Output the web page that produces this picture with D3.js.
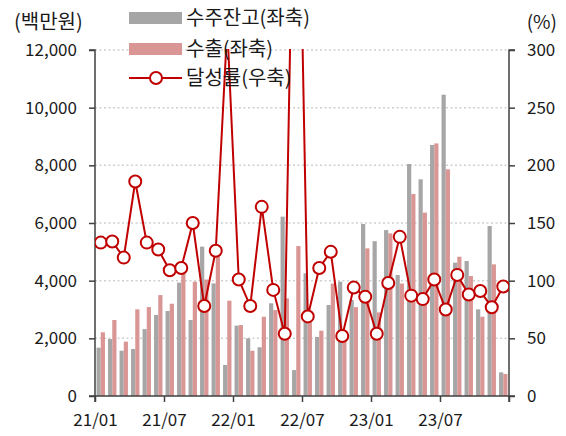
<!DOCTYPE html>
<html>
<head>
<meta charset="utf-8">
<script src="https://cdn.jsdelivr.net/npm/d3@7.9.0/dist/d3.min.js"></script>
<style>
  body { margin: 0; background: #fff; }
  svg text { font-family: "Noto Sans CJK KR", "Noto Sans", sans-serif; fill: #1a1a1a; }
</style>
</head>
<body>
<svg id="chart" width="566" height="436"></svg>
<script>
// months 21/01 .. 23/12
const months = [
  '21/01','21/02','21/03','21/04','21/05','21/06','21/07','21/08','21/09','21/10','21/11','21/12',
  '22/01','22/02','22/03','22/04','22/05','22/06','22/07','22/08','22/09','22/10','22/11','22/12',
  '23/01','23/02','23/03','23/04','23/05','23/06','23/07','23/08','23/09','23/10','23/11','23/12'
];
const tickLabels = ['21/01', '21/07', '22/01', '22/07', '23/01', '23/07'];

// 수주잔고 (백만원)
const backlog = [1675, 1975, 1570, 1630, 2320, 2810, 2950, 3930, 2635, 5180, 3905, 1075,
  2440, 2000, 1690, 3215, 6220, 900, 4255, 2050, 3155, 3965, 3330, 5965,
  5370, 5755, 4195, 8045, 7515, 8705, 10450, 4625, 4680, 3005, 5895, 820];
// 수출 (백만원)
const exportsAmt = [2210, 2635, 1885, 3005, 3085, 3500, 3200, 4240, 3965, 4040, 4830, 3305,
  2460, 1570, 2750, 2980, 3385, 5200, 2600, 2265, 3900, 2000, 3080, 5120,
  2900, 5640, 3900, 7005, 6360, 8760, 7860, 4830, 4160, 2750, 4565, 765];
// 달성률 (%)
const rate = [133, 134, 120, 186, 133, 127, 109, 111, 150, 78, 126, 320,
  101, 78, 164, 92, 54, 590, 69, 111, 125, 52, 94, 86,
  54, 98, 138, 87, 84, 101, 75, 105, 88, 91, 77, 95];

const leftTicks = [0, 2000, 4000, 6000, 8000, 10000, 12000];
const rightTicks = [0, 50, 100, 150, 200, 250, 300];

const plot = { left: 95, right: 509, top: 50, bottom: 396 };
const svg = d3.select('#chart');

const yL = d3.scaleLinear().domain([0, 12000]).range([plot.bottom, plot.top]);
const yR = d3.scaleLinear().domain([0, 300]).range([plot.bottom, plot.top]);
const xBand = d3.scaleBand().domain(months).range([plot.left, plot.right])
  .paddingInner(0.27).paddingOuter(0.135);
const xSub = d3.scaleBand().domain(['backlog', 'exports']).range([0, xBand.bandwidth()]);
const xIdx = d3.scaleLinear().domain([0, months.length]).range([plot.left, plot.right]);

// gridlines
svg.append('g')
  .selectAll('line')
  .data(leftTicks.filter(d => d > 0))
  .join('line')
  .attr('x1', plot.left).attr('x2', plot.right)
  .attr('y1', d => yL(d)).attr('y2', d => yL(d))
  .attr('stroke', '#cfcfcf')
  .attr('stroke-width', 1.5)
  .attr('stroke-dasharray', '2,2.5');

// bars
const colors = { backlog: '#a6a6a6', exports: '#d99694' };
const barData = months.map((m, i) => ({ m, backlog: backlog[i], exports: exportsAmt[i] }));
const groups = svg.append('g').selectAll('g')
  .data(barData)
  .join('g')
  .attr('transform', d => `translate(${xBand(d.m)},0)`);
groups.selectAll('rect')
  .data(d => ['backlog', 'exports'].map(k => ({ k, v: d[k] })))
  .join('rect')
  .attr('x', d => xSub(d.k))
  .attr('width', xSub.bandwidth())
  .attr('y', d => yL(d.v))
  .attr('height', d => plot.bottom - yL(d.v))
  .attr('fill', d => colors[d.k]);

// axes
const axisColor = '#404040';
const gL = svg.append('g').attr('transform', `translate(${plot.left},0)`)
  .call(d3.axisLeft(yL).tickValues(leftTicks).tickFormat(d3.format(',')).tickSize(6).tickPadding(12));
const gR = svg.append('g').attr('transform', `translate(${plot.right},0)`)
  .call(d3.axisRight(yR).tickValues(rightTicks).tickSize(6).tickPadding(12));
const gB = svg.append('g').attr('transform', `translate(0,${plot.bottom})`)
  .call(d3.axisBottom(xIdx).tickValues(d3.range(0, months.length + 1, 6))
    .tickFormat(i => tickLabels[i / 6] || '').tickSize(6).tickPadding(10));
[gL, gR, gB].forEach(g => {
  g.select('.domain').attr('stroke', axisColor).attr('stroke-width', 1.5);
  g.selectAll('.tick line').attr('stroke', axisColor).attr('stroke-width', 1.5);
  g.selectAll('.tick text').attr('font-size', 17).attr('fill', '#1a1a1a')
    .style('font-family', '"Noto Sans CJK KR", sans-serif');
});
gL.select('.domain').attr('d', `M-6,${plot.top}H0V${plot.bottom}H-6`);
gR.select('.domain').attr('d', `M6,${plot.top}H0V${plot.bottom}H6`);
gB.select('.domain').attr('d', `M${plot.left},6V0H${plot.right}V6`);
gB.selectAll('.tick text').attr('dy', '0.85em');

// rate line, clipped to plot area
svg.append('clipPath').attr('id', 'plotClip')
  .append('rect')
  .attr('x', plot.left).attr('y', plot.top - 1)
  .attr('width', plot.right - plot.left).attr('height', plot.bottom - plot.top + 1);

const cx = i => xBand(months[i]) + xBand.bandwidth() / 2;
const line = d3.line().x((d, i) => cx(i)).y(d => yR(d));
const lineG = svg.append('g').attr('clip-path', 'url(#plotClip)');
lineG.append('path')
  .datum(rate)
  .attr('d', line)
  .attr('fill', 'none')
  .attr('stroke', '#c00000')
  .attr('stroke-width', 2);
lineG.selectAll('circle')
  .data(rate.map((v, i) => ({ v, i })).filter(d => d.v <= 300))
  .join('circle')
  .attr('cx', d => cx(d.i))
  .attr('cy', d => yR(d.v))
  .attr('r', 6)
  .attr('fill', '#fff')
  .attr('stroke', '#c00000')
  .attr('stroke-width', 2);

// axis titles
svg.append('text').attr('x', 14).attr('y', 22).attr('dy', '0.35em')
  .attr('font-size', 20).text('(백만원)');
svg.append('text').attr('x', 557).attr('y', 22).attr('dy', '0.35em')
  .attr('text-anchor', 'end').attr('font-size', 19).text('(%)');

// legend
const legend = svg.append('g');
const legendItems = [
  { label: '수주잔고(좌축)', type: 'bar', color: colors.backlog, y: 18 },
  { label: '수출(좌축)', type: 'bar', color: colors.exports, y: 49 },
  { label: '달성률(우축)', type: 'line', color: '#c00000', y: 78 }
];
legendItems.forEach(d => {
  if (d.type === 'bar') {
    legend.append('rect').attr('x', 129).attr('y', d.y - 6).attr('width', 53).attr('height', 12)
      .attr('fill', d.color);
  } else {
    legend.append('line').attr('x1', 129).attr('x2', 182).attr('y1', d.y).attr('y2', d.y)
      .attr('stroke', d.color).attr('stroke-width', 2);
    legend.append('circle').attr('cx', 156).attr('cy', d.y).attr('r', 6)
      .attr('fill', '#fff').attr('stroke', d.color).attr('stroke-width', 2);
  }
  legend.append('text').attr('x', 186).attr('y', d.y).attr('dy', '0.35em')
    .attr('font-size', 20).text(d.label);
});
</script>
</body>
</html>
